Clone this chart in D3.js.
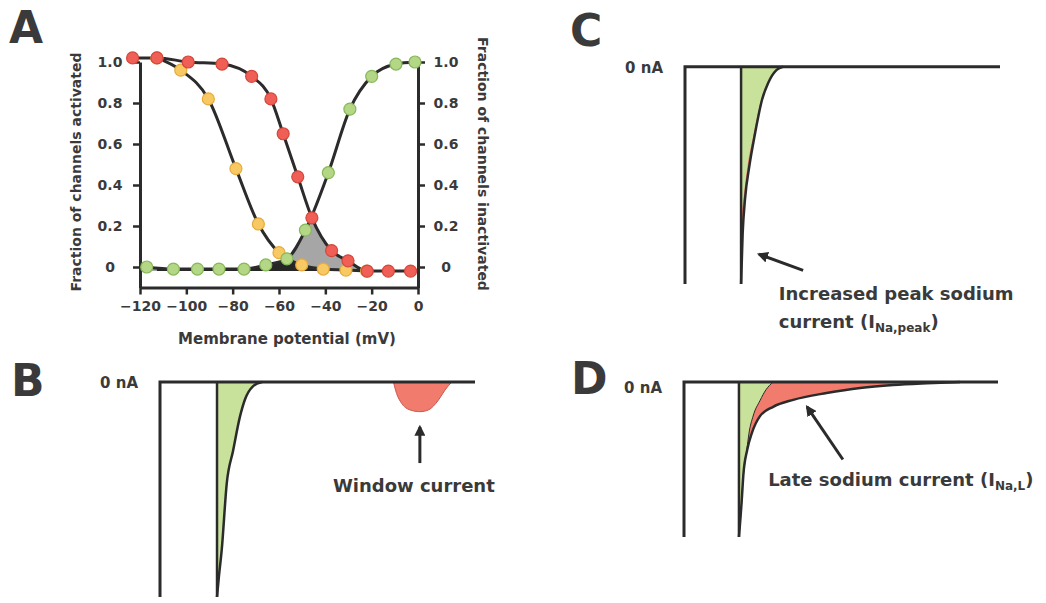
<!DOCTYPE html>
<html>
<head>
<meta charset="utf-8">
<script src="https://cdn.jsdelivr.net/npm/d3@7"></script>
<style>
  body { margin: 0; background: #fff; }
  text { font-family: "DejaVu Sans", sans-serif; font-weight: bold; fill: #3a3a3a; }
</style>
</head>
<body>
<svg id="chart" width="1046" height="603"></svg>
<script>
// Panel A: steady-state curves, [membrane potential (mV), fraction of channels]
const inactivationRed = [[-123.2, 1.02], [-112.7, 1.02], [-99.2, 1.0], [-84.6, 0.99], [-71.8, 0.93],
  [-63.5, 0.82], [-58.2, 0.65], [-51.9, 0.44], [-45.8, 0.24], [-37.3, 0.08], [-30.2, 0.03],
  [-21.9, -0.02], [-12.8, -0.02], [-3.2, -0.02]];
// first yellow point sits exactly under a red marker
const inactivationYellow = [[-112.7, 1.02], [-102.4, 0.96], [-90.5, 0.82], [-78.6, 0.48], [-68.9, 0.21],
  [-60.0, 0.07], [-50.2, 0.01], [-40.9, -0.01], [-31.1, -0.015], [-22.2, -0.02]];
const activationGreen = [[-117.1, 0.0], [-105.6, -0.01], [-95.2, -0.01], [-85.9, -0.01], [-75.1, -0.01],
  [-65.7, 0.01], [-56.6, 0.04], [-48.6, 0.18], [-38.7, 0.46], [-29.4, 0.77], [-20.0, 0.93],
  [-9.5, 0.99], [-1.3, 1.0]];
const xTicksA = [-120, -100, -80, -60, -40, -20, 0];
const yTicksA = [0, 0.2, 0.4, 0.6, 0.8, 1.0];
const yTickLabelsA = ["0", "0.2", "0.4", "0.6", "0.8", "1.0"];

// Panels B-D: current traces, [time (% of sweep), current (fraction of peak)]
const holdingTrace = [[0, -1], [0, 0], [100, 0]];
const peakTraceB = [[18.1, -1.0], [18.6, -0.92], [19.6, -0.78], [21.2, -0.47], [23.2, -0.32],
  [25.4, -0.16], [27.0, -0.08], [29.5, -0.02], [32.4, 0]];
const windowTraceB = [[74.1, 0], [75.1, -0.053], [76.7, -0.099], [79.4, -0.13], [82.5, -0.138],
  [85.2, -0.13], [88.4, -0.084], [90.5, -0.037], [92.6, 0]];
const normalTraceC = [[17.8, -0.7], [18.6, -0.6], [19.8, -0.46], [21.8, -0.31], [24.2, -0.15],
  [26.2, -0.075], [29.0, -0.015], [31.0, 0]];
const increasedTraceC = [[17.8, -1.0], [18.3, -0.77], [19.05, -0.61], [20.4, -0.46], [22.2, -0.31],
  [24.5, -0.15], [26.4, -0.075], [29.1, -0.015], [31.1, 0]];
const normalTraceD = [[17.5, -1.0], [18.4, -0.76], [18.7, -0.65], [19.2, -0.55], [20.0, -0.44],
  [20.7, -0.33], [22.0, -0.22], [24.2, -0.12], [26.1, -0.05], [28.4, 0]];
const lateTraceD = [[17.5, -1.0], [18.4, -0.76], [18.9, -0.6], [20.1, -0.44], [21.6, -0.33],
  [24.2, -0.22], [28.4, -0.16], [34.8, -0.115], [45.4, -0.071], [56.1, -0.038], [66.6, -0.019],
  [77.3, -0.008], [87.9, 0]];

// annotation arrows, [tail, head] in trace units
const arrowB = [[82.5, -0.377], [82.5, -0.209]];
const arrowC = [[37.5, -0.937], [23.5, -0.863]];
const arrowD = [[50.6, -0.5], [39.2, -0.16]];

const colors = {
  line: "#2b2b2b",
  text: "#3a3a3a",
  red: "#ef5f55",
  redStroke: "#d4463c",
  yellow: "#f8c862",
  yellowStroke: "#e6ab3e",
  green: "#b3d784",
  greenStroke: "#88b75a",
  windowArea: "#a6a6a6",
  overlapArea: "#262626",
  greenFill: "#c8e29c",
  redFill: "#f17b6c",
};

const svg = d3.select("#chart");
const defs = svg.append("defs");

defs.append("marker")
  .attr("id", "arrowHead")
  .attr("viewBox", "0 0 10 10")
  .attr("refX", 8)
  .attr("refY", 5)
  .attr("markerWidth", 11)
  .attr("markerHeight", 11)
  .attr("markerUnits", "userSpaceOnUse")
  .attr("orient", "auto")
  .append("path")
  .attr("d", "M0,0L10,5L0,10z")
  .attr("fill", colors.line);

// ---------- panel A ----------
const xA = d3.scaleLinear().domain([-120, 0]).range([140, 418]);
const yA = d3.scaleLinear().domain([-0.1, 1]).range([287.5, 62]);
const gA = svg.append("g");

const lineA = d3.line().x((d) => xA(d[0])).y((d) => yA(d[1])).curve(d3.curveMonotoneX);
const areaA = d3.area()
  .x((d) => xA(d[0]))
  .y0(yA(-0.02))
  .y1((d) => yA(d[1]))
  .curve(d3.curveMonotoneX);

// window current = overlap of the activation and inactivation curves
defs.append("clipPath").attr("id", "underActivation")
  .append("path").attr("d", areaA(activationGreen));

gA.append("path").attr("d", areaA(inactivationRed))
  .attr("fill", colors.windowArea).attr("clip-path", "url(#underActivation)");
gA.append("path").attr("d", areaA(inactivationYellow))
  .attr("fill", colors.overlapArea).attr("clip-path", "url(#underActivation)");

function styleAxis(g) {
  g.select(".domain").attr("stroke", colors.line).attr("stroke-width", 3);
  g.selectAll(".tick line").attr("stroke", colors.line).attr("stroke-width", 2.5);
  g.selectAll(".tick text")
    .attr("font-size", 14)
    .attr("font-family", "DejaVu Sans, sans-serif")
    .attr("font-weight", "bold")
    .attr("fill", colors.text);
}

gA.append("g")
  .attr("transform", `translate(${xA(-120)},0)`)
  .call(d3.axisLeft(yA).tickValues(yTicksA).tickFormat((d, i) => yTickLabelsA[i])
    .tickSize(7).tickSizeOuter(0))
  .call(styleAxis)
  .call((g) => g.selectAll(".tick text").attr("text-anchor", "middle").attr("x", -30));

gA.append("g")
  .attr("transform", `translate(${xA(0)},0)`)
  .call(d3.axisRight(yA).tickValues(yTicksA).tickFormat((d, i) => yTickLabelsA[i])
    .tickSize(7).tickSizeOuter(0))
  .call(styleAxis)
  .call((g) => g.selectAll(".tick text").attr("text-anchor", "middle").attr("x", 28));

gA.append("g")
  .attr("transform", `translate(0,${yA(-0.1)})`)
  .call(d3.axisBottom(xA).tickValues(xTicksA).tickSize(7).tickSizeOuter(0).tickPadding(7))
  .call(styleAxis);

const seriesA = [
  { data: inactivationYellow, fill: colors.yellow, stroke: colors.yellowStroke },
  { data: activationGreen, fill: colors.green, stroke: colors.greenStroke },
  { data: inactivationRed, fill: colors.red, stroke: colors.redStroke },
];

seriesA.forEach((s) => {
  gA.append("path").attr("d", lineA(s.data))
    .attr("fill", "none").attr("stroke", colors.line).attr("stroke-width", 3);
});
seriesA.forEach((s) => {
  gA.append("g").selectAll("circle").data(s.data).join("circle")
    .attr("cx", (d) => xA(d[0]))
    .attr("cy", (d) => yA(d[1]))
    .attr("r", 6)
    .attr("fill", s.fill)
    .attr("stroke", s.stroke)
    .attr("stroke-width", 1.2);
});

gA.append("text").attr("transform", "translate(81,172) rotate(-90)")
  .attr("text-anchor", "middle").attr("font-size", 14).text("Fraction of channels activated");
gA.append("text").attr("transform", "translate(478,164) rotate(90)")
  .attr("text-anchor", "middle").attr("font-size", 14).text("Fraction of channels inactivated");
gA.append("text").attr("x", 287).attr("y", 344)
  .attr("text-anchor", "middle").attr("font-size", 15).text("Membrane potential (mV)");

// ---------- panels B-D ----------
function tracePanel(x0, x1, yBase, yPeak) {
  const x = d3.scaleLinear().domain([0, 100]).range([x0, x1]);
  const y = d3.scaleLinear().domain([0, -1]).range([yBase, yPeak]);
  return {
    x,
    y,
    g: svg.append("g"),
    straight: d3.line().x((d) => x(d[0])).y((d) => y(d[1])),
    smooth: d3.line().x((d) => x(d[0])).y((d) => y(d[1])).curve(d3.curveMonotoneX),
    area: d3.area().x((d) => x(d[0])).y0(y(0)).y1((d) => y(d[1])).curve(d3.curveMonotoneX),
  };
}

function drawLine(p, d, width) {
  p.g.append("path").attr("d", d).attr("fill", "none")
    .attr("stroke", colors.line).attr("stroke-width", width || 3);
}

function drawSpike(p, trace) {
  const t0 = trace[0][0];
  drawLine(p, p.straight([[t0, 0], trace[0]]), 2.5);
  drawLine(p, p.smooth(trace), 2.5);
}

function drawArrow(p, pts) {
  p.g.append("path").attr("d", p.straight(pts)).attr("fill", "none")
    .attr("stroke", colors.line).attr("stroke-width", 3)
    .attr("marker-end", "url(#arrowHead)");
}

function zeroLabel(p, dy) {
  p.g.append("text").attr("x", p.x(0) - 22).attr("y", p.y(0) + dy)
    .attr("text-anchor", "end").attr("font-size", 15).text("0 nA");
}

function label(p, t, v, parts) {
  const txt = p.g.append("text").attr("x", p.x(t)).attr("y", p.y(v)).attr("font-size", 18);
  parts.forEach((part) => {
    const span = txt.append("tspan").text(part.text);
    if (part.sub) span.attr("font-size", 12).attr("dy", 4);
    if (part.after) span.attr("dy", -4);
  });
}

// B: normal current + window current
const pB = tracePanel(160, 475, 382, 597);
pB.g.append("path").attr("d", pB.area(peakTraceB)).attr("fill", colors.greenFill);
pB.g.append("path").attr("d", pB.area(windowTraceB))
  .attr("fill", colors.redFill).attr("stroke", "#c9584b").attr("stroke-width", 1);
drawLine(pB, pB.straight(holdingTrace));
drawSpike(pB, peakTraceB);
zeroLabel(pB, 6);
drawArrow(pB, arrowB);
label(pB, 54.9, -0.512, [{ text: "Window current" }]);

// C: increased peak current
const pC = tracePanel(685, 1000, 66.7, 284);
pC.g.append("path").attr("d", pC.area(increasedTraceC)).attr("fill", colors.redFill);
pC.g.append("path").attr("d", pC.area(normalTraceC)).attr("fill", colors.greenFill);
drawLine(pC, pC.straight(holdingTrace));
drawSpike(pC, increasedTraceC);
zeroLabel(pC, 6);
drawArrow(pC, arrowC);
label(pC, 29.8, -1.075, [{ text: "Increased peak sodium" }]);
label(pC, 29.8, -1.204, [{ text: "current (I" }, { text: "Na,peak", sub: true }, { text: ")", after: true }]);

// D: late sodium current
const pD = tracePanel(684, 998, 382, 537);
pD.g.append("path").attr("d", pD.area(lateTraceD)).attr("fill", colors.redFill);
pD.g.append("path").attr("d", pD.area(normalTraceD)).attr("fill", colors.greenFill);
drawLine(pD, pD.smooth(normalTraceD), 1);
drawLine(pD, pD.straight(holdingTrace));
drawSpike(pD, lateTraceD);
zeroLabel(pD, 11);
drawArrow(pD, arrowD);
label(pD, 26.8, -0.673, [{ text: "Late sodium current (I" }, { text: "Na,L", sub: true }, { text: ")", after: true }]);

// panel letters
const letters = [["A", 9, 43], ["B", 11, 396], ["C", 570, 46], ["D", 571, 394]];
svg.append("g").selectAll("text").data(letters).join("text")
  .attr("x", (d) => d[1]).attr("y", (d) => d[2])
  .attr("font-size", 44).attr("fill", "#2b2b2b")
  .text((d) => d[0]);
</script>
</body>
</html>
